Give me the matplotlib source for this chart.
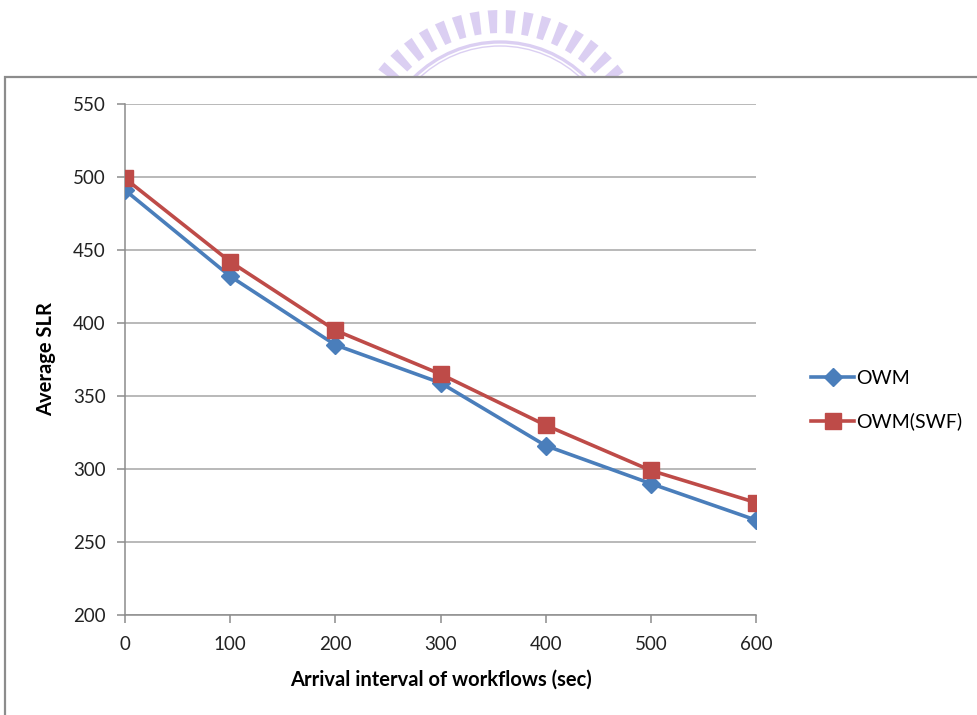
import numpy as np
import matplotlib.pyplot as plt
from matplotlib.patches import Rectangle, Circle, Polygon

# ------------------- data -------------------
interval = [0, 100, 200, 300, 400, 500, 600]
owm = [491, 432, 385, 359, 316, 290, 265]
owm_swf = [499, 442, 395, 365, 330, 299, 277]
yticks = [200, 250, 300, 350, 400, 450, 500, 550]

plt.rcParams['font.family'] = ['Lato', 'DejaVu Sans']

W, H = 977, 715
fig = plt.figure(figsize=(W / 100, H / 100), dpi=100)

# ------------------- watermark (logo peeking above the chart) -------------------
wm = fig.add_axes([0, 0, 1, 1], zorder=0)
wm.set_xlim(0, W)
wm.set_ylim(H, 0)
wm.axis('off')
lilac = '#dbcff2'
cx, cy = 500, 164
for ang in np.arange(206, 336, 6.8):
    a = np.deg2rad(ang)
    r0, r1 = 131, 154
    d0, d1 = np.deg2rad(1.5), np.deg2rad(1.8)
    pts = [(cx + r0 * np.cos(a - d0), cy + r0 * np.sin(a - d0)),
           (cx + r1 * np.cos(a - d1), cy + r1 * np.sin(a - d1)),
           (cx + r1 * np.cos(a + d1), cy + r1 * np.sin(a + d1)),
           (cx + r0 * np.cos(a + d0), cy + r0 * np.sin(a + d0))]
    wm.add_patch(Polygon(pts, closed=True, color=lilac, lw=0))
wm.add_patch(Circle((cx, cy), 122, fill=False, ec=lilac, lw=2.4))
wm.add_patch(Circle((cx, cy), 118, fill=False, ec=lilac, lw=1.0))

# chart border box (opaque white, hides lower part of the logo)
wm.add_patch(Rectangle((5, 77), 990, 700, fc='white', ec='#8c8c8c', lw=1.6))

# ------------------- main chart -------------------
ax = fig.add_axes([125 / W, 1 - 615 / H, (756 - 125) / W, (615 - 104) / H], zorder=2)
ax.patch.set_alpha(0)

ax.plot(interval, owm, color='#4a7ebb', lw=2.6, marker='D', markersize=9,
        label='OWM', zorder=3)
ax.plot(interval, owm_swf, color='#be4b48', lw=2.6, marker='s', markersize=12,
        label='OWM(SWF)', zorder=4)

ax.set_xlim(0, 600)
ax.set_ylim(200, 550)
ax.set_xticks(interval)
ax.set_yticks(yticks)
ax.yaxis.grid(True, color='#a6a6a6', lw=1.1)
ax.set_axisbelow(True)

for s in ['top', 'right']:
    ax.spines[s].set_visible(False)
for s in ['left', 'bottom']:
    ax.spines[s].set_color('#8c8c8c')
    ax.spines[s].set_linewidth(1.1)
ax.tick_params(axis='both', colors='#8c8c8c', length=6, width=1.1,
               labelsize=13.5, labelcolor='#222222')
ax.tick_params(axis='x', pad=9)
ax.tick_params(axis='y', pad=8)

ax.set_xlabel('Arrival interval of workflows (sec)', fontsize=14.5,
              fontweight='bold', labelpad=12)
ax.set_ylabel('Average SLR', fontsize=14.5, fontweight='bold', labelpad=12)

ax.legend(loc='center left', bbox_to_anchor=(1.06, 0.42), frameon=False,
          fontsize=14, handlelength=2.2, handletextpad=0.1, labelspacing=1.3)

fig.savefig('out.png', dpi=100)
